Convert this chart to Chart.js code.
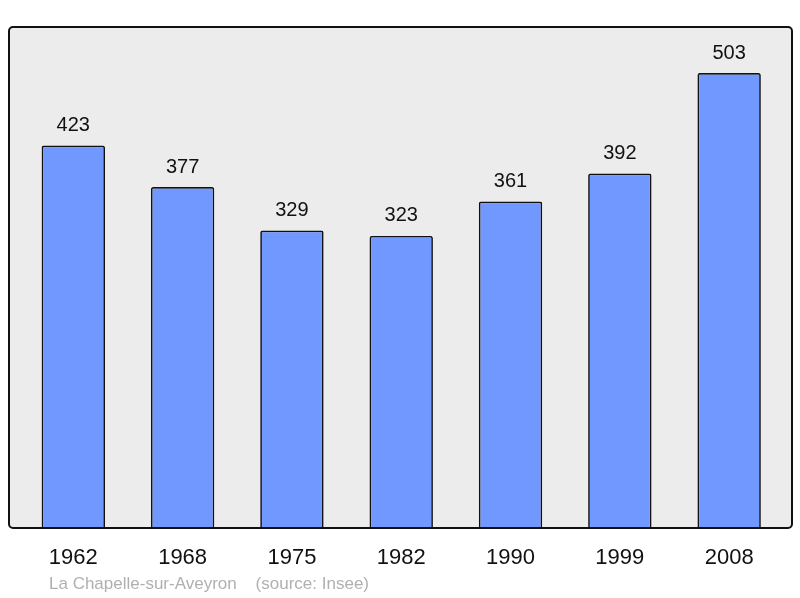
<!DOCTYPE html>
<html>
<head>
<meta charset="utf-8">
<script src="https://cdn.jsdelivr.net/npm/chart.js@4/dist/chart.umd.min.js"></script>
<style>
html,body{margin:0;padding:0;background:#fff;}
canvas{display:block;}
</style>
</head>
<body>
<canvas id="c" width="800" height="598"></canvas>
<script>
const years = ["1962","1968","1975","1982","1990","1999","2008"];
const population = [423, 377, 329, 323, 361, 392, 503];
const sourceText = "La Chapelle-sur-Aveyron    (source: Insee)";

const FONT = "'Liberation Sans', Arial, sans-serif";

const panelPlugin = {
  id: 'panel',
  beforeDatasetsDraw(chart) {
    const ctx = chart.ctx;
    ctx.save();
    ctx.beginPath();
    ctx.roundRect(9, 27, 783, 501, 4);
    ctx.fillStyle = '#ececec';
    ctx.fill();
    ctx.restore();
  },
  afterDatasetsDraw(chart) {
    const ctx = chart.ctx;
    ctx.save();
    ctx.beginPath();
    ctx.roundRect(9, 27, 783, 501, 4);
    ctx.lineWidth = 2;
    ctx.strokeStyle = '#111';
    ctx.stroke();
    // value labels
    const meta = chart.getDatasetMeta(0);
    ctx.fillStyle = '#111';
    ctx.font = "20px " + FONT;
    ctx.textAlign = 'center';
    ctx.textBaseline = 'middle';
    meta.data.forEach((bar, i) => {
      ctx.fillText(String(population[i]), bar.x, bar.y - 20);
    });
    // source
    ctx.fillStyle = '#b0b0b0';
    ctx.font = "17px " + FONT;
    ctx.textAlign = 'left';
    ctx.textBaseline = 'middle';
    ctx.fillText(sourceText, 49, 584);
    ctx.restore();
  }
};

new Chart(document.getElementById('c'), {
  type: 'bar',
  data: {
    labels: years,
    datasets: [{
      data: population,
      backgroundColor: '#7098ff',
      borderColor: '#111',
      borderWidth: 1.7,
      borderRadius: 2,
      borderSkipped: 'start',
      barPercentage: 0.58,
      categoryPercentage: 1.0
    }]
  },
  options: {
    responsive: false,
    animation: false,
    devicePixelRatio: 1,
    layout: { padding: { left: 18.65, right: 16.2, top: 27, bottom: 0 } },
    plugins: { legend: { display: false }, tooltip: { enabled: false } },
    scales: {
      y: { display: false, min: 0, max: 554 },
      x: {
        grid: { display: false, drawTicks: false },
        border: { display: false },
        ticks: { color: '#111', font: { family: FONT, size: 22 }, padding: 17, maxRotation: 0 },
        afterFit(scale) { scale.height = 70; }
      }
    }
  },
  plugins: [panelPlugin]
});
</script>
</body>
</html>
